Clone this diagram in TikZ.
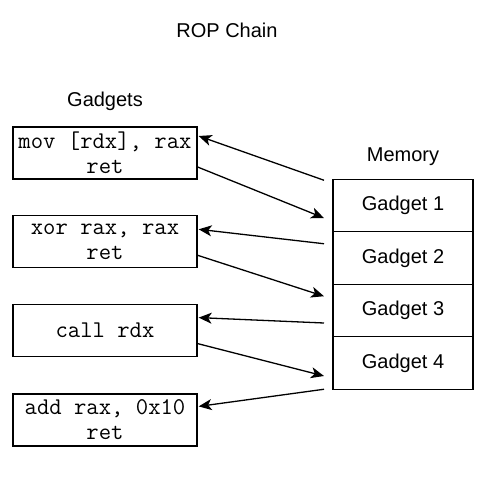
\documentclass[tikz,border=0pt]{standalone}
\usepackage{fontspec}
\setmainfont{Liberation Sans}
\usepackage{tikz}
\usetikzlibrary{arrows.meta,positioning}

\tikzset{
  gadget/.style={draw, line width=1.3pt, minimum width=184pt, minimum height=52pt, align=center, inner sep=0pt, font=\fontsize{24}{25}\selectfont\ttfamily},
  cell/.style={draw, line width=1.3pt, outer sep=0pt, minimum width=140pt, minimum height=52.5pt, inner sep=0pt, font=\fontsize{20}{24}\selectfont},
  label/.style={font=\fontsize{20}{24}\selectfont},
  arr/.style={-{Stealth[length=13pt, width=11pt, inset=3.5pt]}, line width=1.3pt}
}

\begin{document}
\begin{tikzpicture}[x=1pt, y=1pt]
\useasboundingbox (0,0) rectangle (493,-480);
\coordinate(O) at (105,-153);

\node[label] (title) at (227,-30) {ROP Chain};
\node[label, above=39pt of O] (gl) {Gadgets};

\node[gadget] at (O) (g1) {mov [rdx], rax\\ret};
\node[gadget, below=35pt of g1] (g2) {xor rax, rax\\ret};
\node[gadget, below=36pt of g2] (g3) {call rdx};
\node[gadget, below=36pt of g3] (g4) {add rax, 0x10\\ret};

\node[cell] at (403,-205.5) (m1) {Gadget 1};
\node[cell, below=0pt of m1] (m2) {Gadget 2};
\node[cell, below=0pt of m2] (m3) {Gadget 3};
\node[cell, below=0pt of m3] (m4) {Gadget 4};
\node[label, above=10pt of m1] (ml) {Memory};

% free ends left of the memory column
\coordinate (p1) at ([xshift=-9pt, yshift=-1pt]m1.north west);
\coordinate (p2) at ([xshift=-9pt, yshift=-12.5pt]m1.west);
\coordinate (p3) at ([xshift=-9pt, yshift=-12pt]m2.north west);
\coordinate (p4) at ([xshift=-9pt, yshift=-12pt]m3.north west);
\coordinate (p5) at ([xshift=-9pt, yshift=-12.5pt]m3.west);
\coordinate (p6) at ([xshift=-9pt, yshift=-13pt]m4.west);
\coordinate (p7) at ([xshift=-9pt]m4.south west);

\draw[arr] (p1) -- ([xshift=1pt, yshift=17pt]g1.east);
\draw[arr] ([yshift=-14pt]g1.east) -- (p2);
\draw[arr] (p3) -- ([xshift=1pt, yshift=12pt]g2.east);
\draw[arr] ([yshift=-14pt]g2.east) -- (p4);
\draw[arr] (p5) -- ([xshift=1pt, yshift=13pt]g3.east);
\draw[arr] ([yshift=-13pt]g3.east) -- (p6);
\draw[arr] (p7) -- ([xshift=1pt, yshift=13.5pt]g4.east);
\end{tikzpicture}
\end{document}
